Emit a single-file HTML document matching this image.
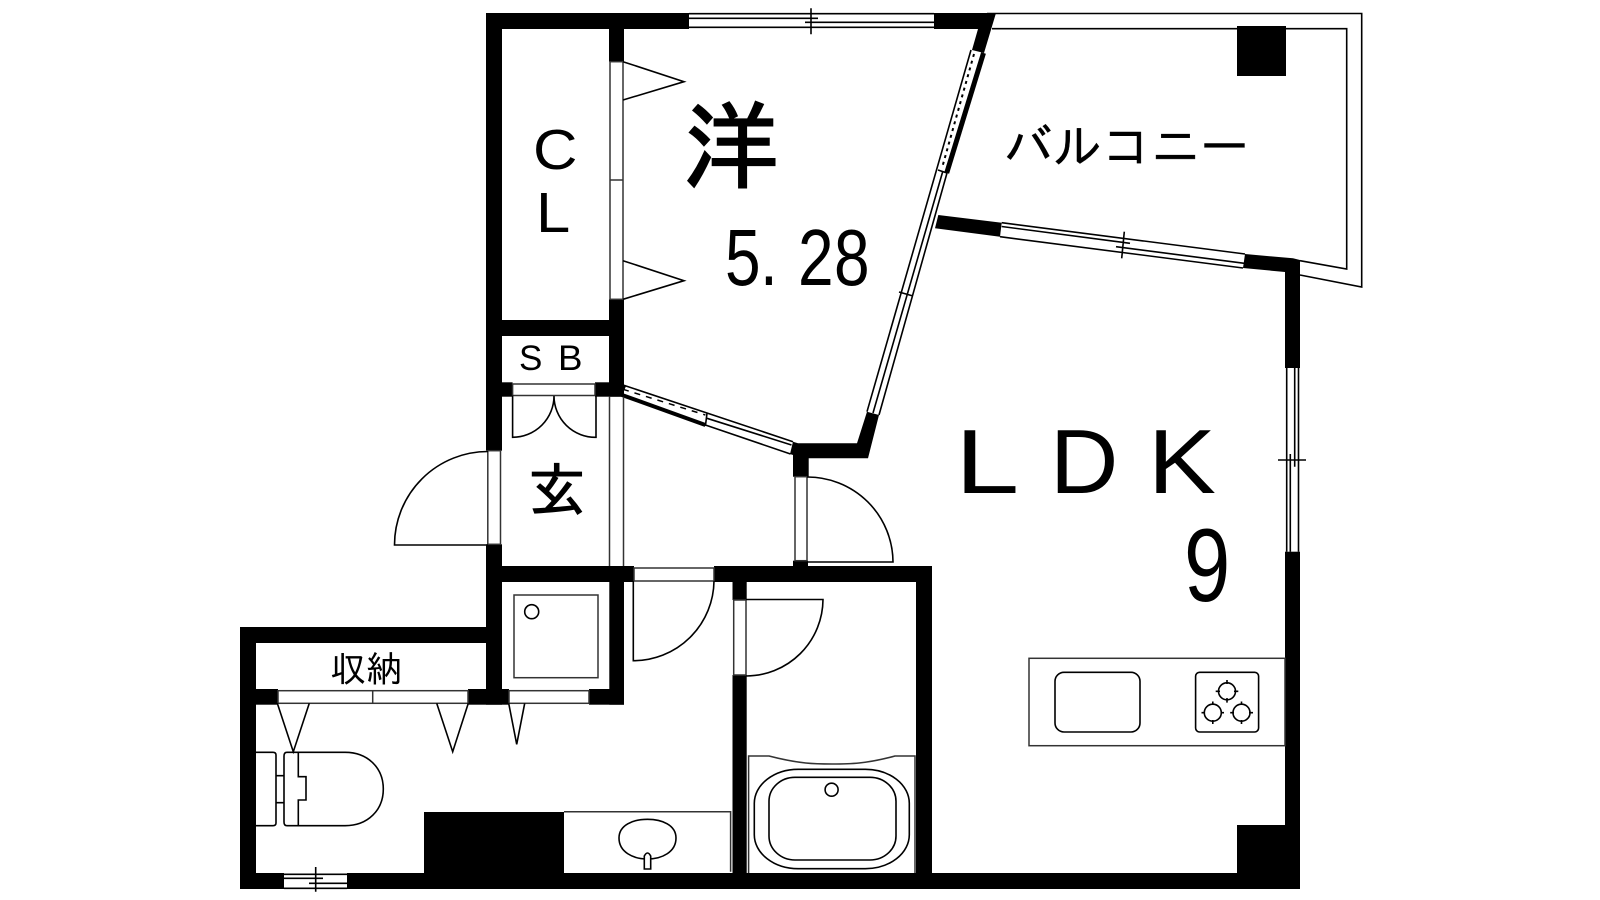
<!DOCTYPE html>
<html><head><meta charset="utf-8"><style>
html,body{margin:0;padding:0;background:#fff;width:1600px;height:900px;overflow:hidden}
svg{display:block}
.l{fill:none;stroke:#000;stroke-width:1.6}
.t{stroke:#333;fill:#fff;stroke-width:1.5}
.s{font-family:"Liberation Sans",sans-serif;fill:#000}
.j{font-family:"IPAGothic","Noto Sans CJK JP",sans-serif;fill:#000}
</style></head><body>
<svg width="1600" height="900" viewBox="0 0 1600 900" xmlns="http://www.w3.org/2000/svg">
<rect width="1600" height="900" fill="#fff"/>

<!-- balcony -->
<path class="l" d="M987 13.5H1361.7V287L1300 275M992 28.7H1346.7V269L1300 260.7"/>
<rect x="1237" y="26" width="49" height="50"/>

<!-- walls -->
<g fill="#000">
<rect x="486" y="13" width="203" height="16"/>
<polygon points="934,13 996,13 984,53 972,50 978,29 934,29"/>
<rect x="486" y="13" width="16" height="437.7"/>
<rect x="486" y="544.3" width="16" height="160.4"/>
<rect x="609" y="29" width="15" height="32.7"/>
<rect x="609" y="299.3" width="15" height="97.4"/>
<rect x="486" y="320" width="138" height="16"/>
<rect x="502" y="382.3" width="10.6" height="14.4"/>
<rect x="595" y="382.3" width="29" height="14.4"/>
<polygon points="622,384 626,386 622,396"/>
<rect x="486" y="566" width="148" height="16"/>
<rect x="714" y="566" width="218" height="16"/>
<rect x="609.3" y="566" width="14.7" height="138.7"/>
<rect x="916" y="566" width="16" height="323"/>
<rect x="732.5" y="566" width="14.2" height="34"/>
<rect x="732.5" y="675" width="14.2" height="214"/>
<rect x="240" y="627" width="246" height="16"/>
<rect x="240" y="627" width="16" height="262"/>
<rect x="256" y="689" width="22" height="15.7"/>
<rect x="468" y="689" width="41" height="15.7"/>
<rect x="589" y="689" width="35" height="15.7"/>
<rect x="240" y="873" width="44" height="16"/>
<rect x="347" y="873" width="953" height="16"/>
<rect x="424" y="812" width="140" height="61"/>
<rect x="1237" y="825" width="48" height="48"/>
<rect x="1285" y="551.7" width="15" height="337.3"/>
<polygon points="1245,254 1293,258.3 1300,260 1300,368 1285,368 1285,272 1243,268"/>
<polygon points="938.3,215 1001.7,222.7 1000,236.7 935,228.3"/>
<polygon points="867,411.7 879,415 868,458.3 808.7,458.3 808.7,476.7 793,476.7 793,455 790,454 793,441.7 798,443.3 857,443.3"/>
<rect x="793" y="560.7" width="15" height="6"/>
</g>

<!-- top window -->
<path class="l" d="M689 13.7H934M689 27.3H934M689 18.3H818M805 22.3H934M811 8.3V34.3"/>
<!-- right window -->
<path class="l" d="M1286.7 368V551.7M1298.5 368V551.7M1294.7 368V466.7M1290.3 454V551.7M1278 460H1306"/>
<!-- balcony lower window -->
<path class="l" d="M1001.7 222.7L1245 254M1000 236.7L1243 268M1001.7 226.5L1130 243.3M1116 246.7L1244.3 263.3M1124.3 231.7L1121.7 258.3"/>
<!-- bottom-left window -->
<path class="l" d="M284 874.3H347M284 888.3H347M284 878.3H323M309 883.3H347M315.7 867V891.7"/>

<!-- main diagonal window -->
<path class="l" d="M971 50L867 411.7M879 415L947 173M942.6 172L873 413M938 170L947 173M899 292L913 296"/>
<path d="M983.5 53L946.7 173" stroke="#000" stroke-width="5" fill="none"/>
<path d="M974 54L942 168" stroke="#000" stroke-width="2" stroke-dasharray="3 4" fill="none"/>

<!-- lower diagonal window -->
<path class="l" d="M623 385L793 441.7M705.4 425L790.5 454M707 418.3L791.5 445M707 413.3L705.4 426"/>
<path d="M622 395L705.4 425" stroke="#000" stroke-width="4" fill="none"/>
<path d="M623 389.3L705.4 415" stroke="#000" stroke-width="1.5" stroke-dasharray="6 6" fill="none"/>

<!-- closet doors -->
<rect class="t" x="610" y="61.7" width="13" height="237.6"/>
<path class="t" d="M610 180H623" />
<path class="l" d="M623 61.7L684 81.7L623 100M623 260.7L684 280.7L623 299.3"/>

<!-- SB panel + doors -->
<rect class="t" x="512.6" y="384" width="82.4" height="11.5"/>
<path class="l" d="M512.6 395.5V437.3A41.4 41.4 0 0 0 554 396A41.4 41.4 0 0 0 596 437.3V395.5"/>
<!-- shoe panel -->
<path class="t" d="M609.5 396.7V566M623.5 396.7V566" style="fill:none"/>

<!-- entrance door -->
<rect class="t" x="487.8" y="450.7" width="12.7" height="93.6"/>
<path class="l" d="M488 451.5A93.5 93.5 0 0 0 394.5 545H488"/>
<!-- LDK door -->
<rect class="t" x="795" y="476.7" width="12" height="84"/>
<path class="l" d="M807 477A85.5 85.5 0 0 1 893 562H807"/>
<!-- hall door -->
<rect class="t" x="634" y="568" width="80" height="13"/>
<path class="l" d="M633.3 581V660.7A80.7 80.7 0 0 0 714 581"/>
<!-- bath door -->
<rect class="t" x="733.7" y="600" width="12.3" height="75"/>
<path class="l" d="M746 599.5H823A77 77 0 0 1 746 676"/>

<!-- storage panels -->
<rect class="t" x="278" y="690.7" width="190" height="12.6"/>
<path class="t" d="M372.7 690.7V703.3"/>
<rect class="t" x="509" y="690.7" width="80" height="12.6"/>
<path class="l" d="M277.3 703.3L293.3 751.7L309.3 703.3M436.7 703.3L452.7 751.7L468.3 703.3M508.7 703.3L516.7 744.3L524.7 703.3"/>

<!-- shower box -->
<rect class="t" x="514" y="595" width="84" height="82.7"/>
<circle class="l" cx="531.7" cy="611.7" r="7"/>

<!-- toilet -->
<path class="l" d="M256 752.3H273Q276 752.3 276 755V823Q276 825.7 273 825.7H256M276 775.7H284M276 802.7H284"/>
<path class="l" d="M298.3 752.3H345C368 752.3 383.3 768 383.3 789C383.3 810 368 825.7 345 825.7H287Q284 825.7 284 822V756Q284 752.3 287 752.3H298.3V776.7H306V800H298.3V825.7"/>

<!-- vanity -->
<path class="t" style="fill:none" d="M564 811.7H730.6V871.7"/>
<path class="l" d="M647.5 819.3C662 819.3 676 825 676 838C676 852 662 859 647.5 859C633 859 619 852 619 838C619 825 633 819.3 647.5 819.3Z"/>
<path class="l" style="fill:#fff" d="M644.3 869V856Q647.5 850 650.7 856V869Z"/>

<!-- tub -->
<path class="t" style="fill:none" d="M748.6 873V756H769C800 764 815 764 832 764C850 764 865 764 895 756H915V873"/>
<rect class="l" x="754.3" y="769.3" width="155" height="99.4" rx="44" ry="34"/>
<rect class="l" x="769" y="777.3" width="127" height="82.7" rx="26" ry="24"/>
<ellipse class="l" cx="831.6" cy="789.7" rx="6.5" ry="6.5"/>

<!-- kitchen -->
<rect class="t" style="fill:none" x="1029" y="658.3" width="256" height="87.4"/>
<rect class="l" x="1055" y="672.3" width="85" height="59.7" rx="9"/>
<rect class="l" x="1195.6" y="672.3" width="63" height="59.7" rx="4"/>
<g class="l">
<circle cx="1227" cy="691.3" r="8.5"/><path d="M1227 680V684M1227 698V702.6M1215.7 691.3H1220M1234 691.3H1238.3"/>
<circle cx="1212.8" cy="712.7" r="8.5"/><path d="M1212.8 701.5V705M1212.8 720V724M1201.5 712.7H1205M1220.5 712.7H1224"/>
<circle cx="1241.5" cy="712.7" r="8.5"/><path d="M1241.5 701.5V705M1241.5 720V724M1230.2 712.7H1234M1249 712.7H1253"/>
</g>

<!-- text -->
<text class="j" font-size="96" stroke="#000" stroke-width="2" transform="translate(683,181) scale(1,1)">洋</text>
<g class="s" font-size="80">
<text transform="translate(725,285) scale(.8,1)">5</text>
<text transform="translate(760,285) scale(.8,1)">.</text>
<text transform="translate(798,285) scale(.8,1)">2</text>
<text transform="translate(834,285) scale(.8,1)">8</text>
</g>
<text class="s" font-size="57" transform="translate(533,169) scale(1.08,1)">C</text>
<text class="s" font-size="57" transform="translate(536,232) scale(1.08,1)">L</text>
<text class="s" x="519" y="370" font-size="35">S</text>
<text class="s" font-size="35" transform="translate(558,370) scale(1.05,1)">B</text>
<text class="j" x="528" y="511" font-size="58" stroke="#000" stroke-width="1">玄</text>
<text class="j" x="330" y="682" font-size="36">収納</text>
<text class="j" font-size="49" stroke="#000" stroke-width=".4" x="1004" y="164">バルコニー</text>
<g class="s" font-size="91">
<text transform="translate(955,493) scale(1.27,1)">L</text>
<text transform="translate(1050,493) scale(1.04,1)">D</text>
<text transform="translate(1148,493) scale(1.12,1)">K</text>
</g>
<text class="s" font-size="104" transform="translate(1184,601) scale(.8,1)">9</text>
</svg>
</body></html>
